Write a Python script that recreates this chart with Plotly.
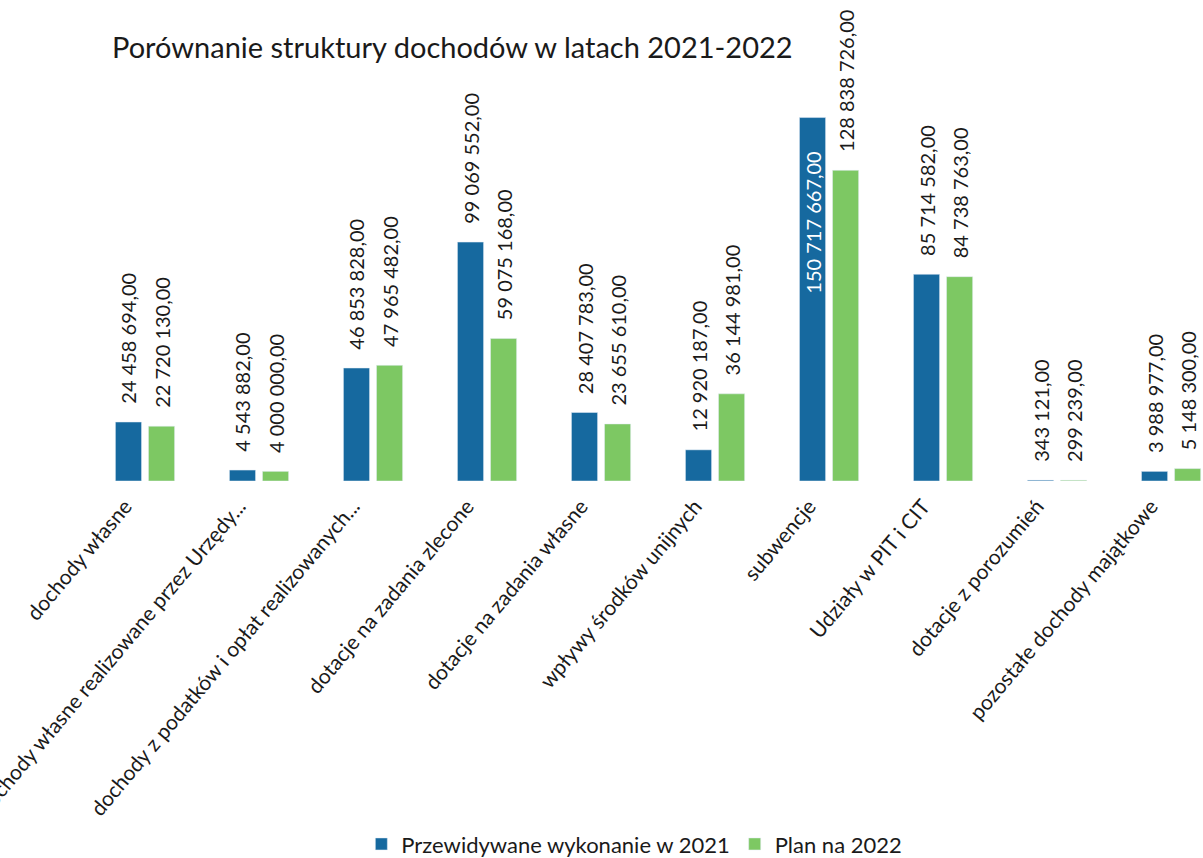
import plotly.graph_objects as go

BLUE = "#16699F"
GREEN = "#7DC863"
TEXT_COLOR = "#1a1a1a"
FONT = "Lato"

categories = [
    "dochody własne",
    "dochody własne realizowane przez Urzędy...",
    "dochody z podatków i opłat realizowanych...",
    "dotacje na zadania zlecone",
    "dotacje na zadania własne",
    "wpływy środków unijnych",
    "subwencje",
    "Udziały w PIT i CIT",
    "dotacje z porozumień",
    "pozostałe dochody majątkowe",
]
wykonanie_2021 = [
    24458694.00, 4543882.00, 46853828.00, 99069552.00, 28407783.00,
    12920187.00, 150717667.00, 85714582.00, 343121.00, 3988977.00,
]
plan_2022 = [
    22720130.00, 4000000.00, 47965482.00, 59075168.00, 23655610.00,
    36144981.00, 128838726.00, 84738763.00, 299239.00, 5148300.00,
]

INSIDE_IDX = 6  # the tallest bar keeps its label inside


def pl_format(value: float, inside: bool = False) -> str:
    text = f"{value:,.2f}".replace(",", " ").replace(".", ",")
    nbsp = "\u00a0"
    # outside labels sit a bit above the bar, the inside one a bit below the top
    return text + nbsp * 6 if inside else nbsp * 3 + text


fig = go.Figure()
fig.add_bar(
    name="Przewidywane wykonanie w 2021",
    x=categories,
    y=wykonanie_2021,
    marker_color=BLUE,
    text=[pl_format(v, inside=(i == INSIDE_IDX)) for i, v in enumerate(wykonanie_2021)],
    textposition=["inside" if i == INSIDE_IDX else "outside" for i in range(len(categories))],
    textangle=-90,
    insidetextanchor="end",
    constraintext="none",
    insidetextfont=dict(color="white", size=20, family=FONT),
    outsidetextfont=dict(color=TEXT_COLOR, size=20, family=FONT),
    cliponaxis=False,
)
fig.add_bar(
    name="Plan na 2022",
    x=categories,
    y=plan_2022,
    marker_color=GREEN,
    text=[pl_format(v) for v in plan_2022],
    textposition="outside",
    textangle=-90,
    constraintext="none",
    outsidetextfont=dict(color=TEXT_COLOR, size=20, family=FONT),
    cliponaxis=False,
)

fig.update_layout(
    width=1203,
    height=858,
    barmode="group",
    bargap=0.42,
    bargroupgap=0.21,
    paper_bgcolor="white",
    plot_bgcolor="white",
    font=dict(family=FONT, color=TEXT_COLOR, size=20),
    margin=dict(l=88, r=0, t=100, b=377, autoexpand=False),
    title=dict(
        text="Porównanie struktury dochodów w latach 2021-2022",
        x=112 / 1203,
        xanchor="left",
        y=1 - 48 / 858,
        yanchor="middle",
        font=dict(size=29, family=FONT, color=TEXT_COLOR),
    ),
    legend=dict(
        orientation="h",
        x=0.49,
        xanchor="center",
        y=-0.898,
        yanchor="top",
        font=dict(size=22, family=FONT),
        itemwidth=30,
    ),
)
fig.update_xaxes(
    range=[-0.5, 9.28],
    tickangle=-50,
    showgrid=False,
    showline=False,
    ticks="",
    automargin=False,
    ticklabelstandoff=8,
    ticklabelshift=-20,
    tickfont=dict(size=21, family=FONT),
)
fig.update_yaxes(
    range=[0, 158e6],
    visible=False,
    showgrid=False,
    automargin=False,
)

fig.write_html(
    "out.html",
    config={"displayModeBar": False},
    post_script="document.body.style.margin = '0';",
)
